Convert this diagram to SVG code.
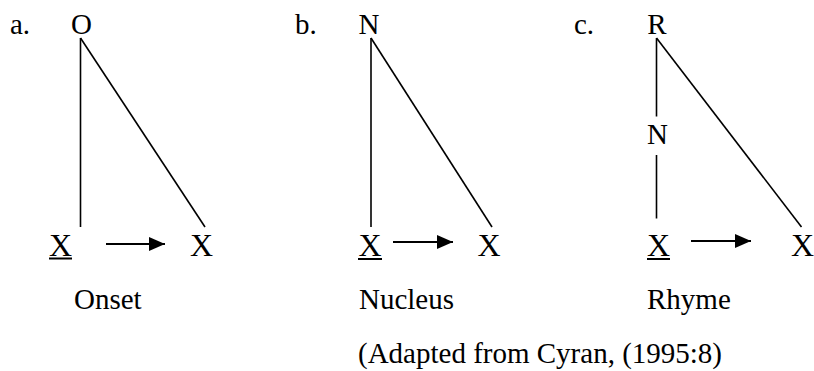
<svg xmlns="http://www.w3.org/2000/svg" width="814" height="371" viewBox="0 0 814 371">
<defs>
<style>
text{font-family:"Liberation Serif",Tinos,"Times New Roman",Times,"DejaVu Serif",serif;fill:#000}
.lab{font-size:29px}
.x{font-size:32px;text-anchor:middle}
.n{font-size:29px;text-anchor:middle}
.br{stroke:#000;stroke-width:1.6;fill:none}
.ar{stroke:#000;stroke-width:2.2;fill:none;marker-end:url(#ah)}
.ul{stroke:#000;stroke-width:2}
</style>
<marker id="ah" markerUnits="userSpaceOnUse" markerWidth="16" markerHeight="14" refX="15" refY="6.5" orient="auto" viewBox="0 0 15 13">
<path d="M0,0 L15,6.5 L0,13 z" fill="#000"/>
</marker>
</defs>
<rect width="814" height="371" fill="#fff"/>
<g id="connectors">
<line class="br" x1="80.5" y1="38" x2="80.5" y2="227"/>
<line class="br" x1="80.5" y1="38" x2="205" y2="227"/>
<line class="br" x1="371" y1="38" x2="371" y2="227"/>
<line class="br" x1="371" y1="38" x2="492" y2="227"/>
<line class="br" x1="656.5" y1="38" x2="656.5" y2="116.5"/>
<line class="br" x1="656.5" y1="155" x2="656.5" y2="218.5"/>
<line class="br" x1="656.5" y1="38" x2="801.5" y2="227"/>
<line class="ar" x1="106" y1="244" x2="165" y2="244"/>
<line class="ar" x1="393" y1="242" x2="453" y2="242"/>
<line class="ar" x1="691" y1="241" x2="751" y2="241"/>
</g>
<g id="panel-a">
<text class="lab" x="10" y="34" font-family="Liberation Serif, serif">a.</text>
<g id="a-O"><text class="n" x="81.5" y="34">O</text></g>
<g id="a-X1"><text class="x" x="60.5" y="255.5">X</text><line class="ul" x1="49" y1="258.5" x2="72" y2="258.5"/></g>
<g id="a-X2"><text class="x" x="201.5" y="255.5">X</text></g>
<text class="lab" x="74" y="309">Onset</text>
</g>
<g id="panel-b">
<text class="lab" x="295" y="34">b.</text>
<g id="b-N"><text class="n" x="369" y="34">N</text></g>
<g id="b-X1"><text class="x" x="370" y="255.5">X</text><line class="ul" x1="358" y1="259" x2="382" y2="259"/></g>
<g id="b-X2"><text class="x" x="489" y="255.5">X</text></g>
<text class="lab" x="359" y="309">Nucleus</text>
</g>
<g id="panel-c">
<text class="lab" x="574" y="34">c.</text>
<g id="c-R"><text class="n" x="657" y="34">R</text></g>
<g id="c-N"><text class="n" x="657.5" y="144">N</text></g>
<g id="c-X1"><text class="x" x="658.5" y="255.5">X</text><line class="ul" x1="647" y1="259" x2="670" y2="259"/></g>
<g id="c-X2"><text class="x" x="802.5" y="255.5">X</text></g>
<text class="lab" x="647" y="309">Rhyme</text>
</g>
<text class="lab" x="358" y="363">(Adapted from Cyran, (1995:8)</text>
</svg>
